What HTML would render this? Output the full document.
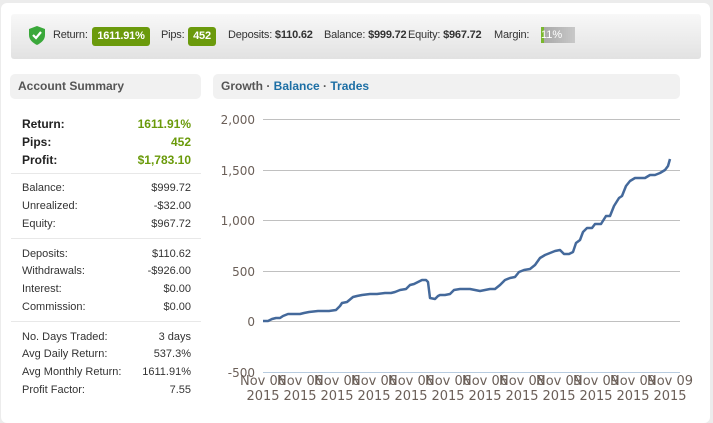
<!DOCTYPE html>
<html><head><meta charset="utf-8"><style>
body{margin:0;width:713px;height:418px;background:#ececec;font-family:"Liberation Sans",Arial,sans-serif;position:relative;overflow:hidden}
.panel{position:absolute;left:1px;top:3px;width:709px;height:420px;background:#fff;border-radius:6px}
.top{position:absolute;left:11px;top:14px;width:690px;height:45px;border-radius:3px;background:linear-gradient(#f8f8f8,#e2e2e2);}
.t{position:absolute;top:29px;font-size:11px;color:#333;white-space:nowrap;letter-spacing:-0.2px}
.badge{position:absolute;top:27px;height:19px;background:#6b9a0c;border-radius:3px;color:#fff;font-weight:bold;font-size:11px;line-height:19px;text-align:center;letter-spacing:-0.2px}
.hdr{position:absolute;top:74px;height:25px;background:#f1f1f1;border-radius:5px;font-size:12px;font-weight:bold;color:#555;line-height:25px;padding-left:8px;box-sizing:border-box}
.hdr a{color:#1d6fa5}
.r{position:absolute;left:22px;width:169px;font-size:11px;color:#333}
.r span{float:right}
.b{font-weight:bold;font-size:12px;color:#222}
.b span{color:#6a9a0a}
.sep{position:absolute;left:11px;width:190px;height:1px;background:#e8e8e8}
</style></head><body>
<div class="panel"></div>
<div class="top"></div>
<svg style="position:absolute;left:29px;top:26px" width="16" height="19" viewBox="0 0 16 19"><path d="M8 0 L16 3 L16 9 C16 14 12 17 8 19 C4 17 0 14 0 9 L0 3Z" fill="#3aa83a"/><path d="M4 9 L7 12 L12 6" stroke="#fff" stroke-width="2.2" fill="none"/></svg>
<div class="t" style="left:53px">Return:</div>
<div class="badge" style="left:92px;width:58px">1611.91%</div>
<div class="t" style="left:161px">Pips:</div>
<div class="badge" style="left:188px;width:28px">452</div>
<div class="t" style="left:228px">Deposits: <b>$110.62</b></div>
<div class="t" style="left:324px">Balance: <b>$999.72</b></div>
<div class="t" style="left:408px">Equity: <b>$967.72</b></div>
<div class="t" style="left:494px">Margin:</div>
<div style="position:absolute;left:541px;top:27px;width:34px;height:16px;background:linear-gradient(90deg,#7ab82e 0,#7ab82e 3px,#a9a9a9 3px,#c8c8c8);color:#fff;font-size:11px;line-height:16px">11%</div>
<div class="hdr" style="left:10px;width:191px">Account Summary</div>
<div class="hdr" style="left:213px;width:467px">Growth · <a>Balance</a> · <a>Trades</a></div>
<div class="r b" style="top:117px">Return:<span>1611.91%</span></div>
<div class="r b" style="top:135px">Pips:<span>452</span></div>
<div class="r b" style="top:153px">Profit:<span>$1,783.10</span></div>
<div class="sep" style="top:173px"></div>
<div class="r" style="top:182px">Balance:<span>$999.72</span></div>
<div class="r" style="top:200px">Unrealized:<span>-$32.00</span></div>
<div class="r" style="top:218px">Equity:<span>$967.72</span></div>
<div class="sep" style="top:238px"></div>
<div class="r" style="top:248px">Deposits:<span>$110.62</span></div>
<div class="r" style="top:265px">Withdrawals:<span>-$926.00</span></div>
<div class="r" style="top:283px">Interest:<span>$0.00</span></div>
<div class="r" style="top:301px">Commission:<span>$0.00</span></div>
<div class="sep" style="top:321px"></div>
<div class="r" style="top:331px">No. Days Traded:<span>3 days</span></div>
<div class="r" style="top:348px">Avg Daily Return:<span>537.3%</span></div>
<div class="r" style="top:366px">Avg Monthly Return:<span>1611.91%</span></div>
<div class="r" style="top:384px">Profit Factor:<span>7.55</span></div>
<svg style="position:absolute;left:0;top:0" width="713" height="418" font-family="DejaVu Sans,Verdana,sans-serif" font-size="12" fill="#6b5f58">
<g stroke="#c0c0c0" stroke-width="1">
<line x1="263" x2="680" y1="119.5" y2="119.5"/><line x1="263" x2="680" y1="170.5" y2="170.5"/><line x1="263" x2="680" y1="220.5" y2="220.5"/><line x1="263" x2="680" y1="271.5" y2="271.5"/><line x1="263" x2="680" y1="321.5" y2="321.5"/>
</g>
<line x1="263" x2="680" y1="372.5" y2="372.5" stroke="#b8cce0"/>
<g text-anchor="end"><text x="255" y="124">2,000</text><text x="255" y="175">1,500</text><text x="255" y="225">1,000</text><text x="255" y="276">500</text><text x="255" y="326">0</text><text x="255" y="377">-500</text></g>
<g text-anchor="middle" font-size="13">
<text x="263" y="385">Nov 06</text><text x="300" y="385">Nov 06</text><text x="337" y="385">Nov 06</text><text x="374" y="385">Nov 06</text><text x="411" y="385">Nov 06</text><text x="448" y="385">Nov 06</text><text x="485" y="385">Nov 06</text><text x="522" y="385">Nov 08</text><text x="559" y="385">Nov 09</text><text x="596" y="385">Nov 09</text><text x="633" y="385">Nov 09</text><text x="670" y="385">Nov 09</text>
<text x="263" y="400">2015</text><text x="300" y="400">2015</text><text x="337" y="400">2015</text><text x="374" y="400">2015</text><text x="411" y="400">2015</text><text x="448" y="400">2015</text><text x="485" y="400">2015</text><text x="522" y="400">2015</text><text x="559" y="400">2015</text><text x="596" y="400">2015</text><text x="633" y="400">2015</text><text x="670" y="400">2015</text>
</g>
<polyline fill="none" stroke="#44699b" stroke-width="2.5" stroke-linejoin="round" points="263,321 268,321 272,319 276,318 280,318 283,316 288,314 294,314 300,314 304,313 309,312 318,311 329,311 336,310 340,306 342,303 347,302 353,297 357,296 362,295 370,294 377,294 385,293 391,293 395,292 400,290 406,289 410,285 414,284 418,282 422,280 426,280 428,282 430,298 435,299 438,296 440,295 445,295 450,294 454,290 460,289 470,289 475,290 480,291 485,290 490,289 495,289 500,285 505,280 510,278 515,277 519,272 524,270 530,269 535,265 540,258 545,255 550,253 555,251 560,250 564,254 569,254 573,252 576,243 580,240 583,232 587,228 592,228 595,224 601,224 606,216 610,216 614,206 619,198 622,196 626,186 630,181 635,178 640,178 645,178 650,175 655,175 660,173 665,170 668,166 670,159"/>
</svg>
</body></html>
